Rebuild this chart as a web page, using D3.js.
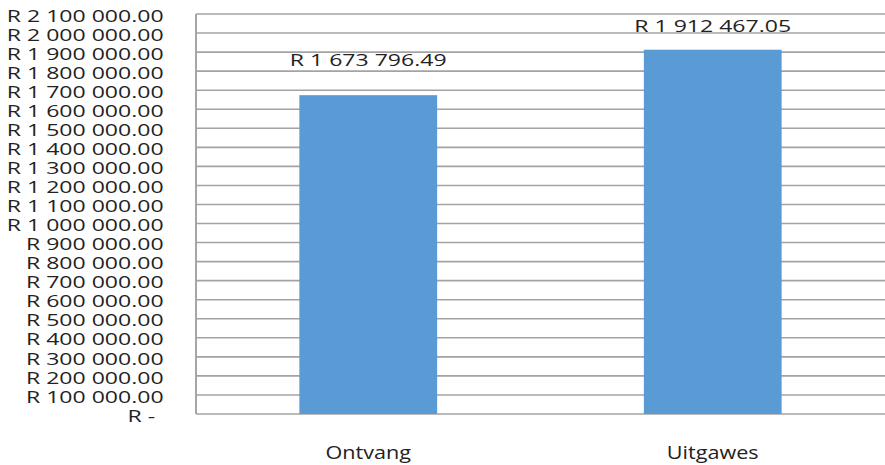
<!DOCTYPE html>
<html>
<head>
<meta charset="utf-8">
<script src="https://cdn.jsdelivr.net/npm/d3@7"></script>
<style>
  html, body { margin: 0; padding: 0; background: #fff; }
  svg { display: block; }
  text { font-family: "Open Sans", sans-serif; fill: #222; }
</style>
</head>
<body>
<div id="chart"></div>
<script>
// data
var categories = ["Ontvang", "Uitgawes"];
var amounts = [1673796.49, 1912467.05];
var labelLift = [29, 18]; // how far each data label sits above its bar
var yMax = 2100000;
var yStep = 100000;

// the original picture is stretched sideways, so draw narrow and stretch it
var stretch = 1.2;
var outW = 885, H = 465;
var W = outW / stretch;
var margin = {top: 14, right: 0, bottom: 51, left: 196 / stretch};

var svg = d3.select("#chart").append("svg")
  .attr("width", outW).attr("height", H)
  .attr("viewBox", "0 0 " + W + " " + H)
  .attr("preserveAspectRatio", "none");

var x = d3.scaleBand().domain(categories)
  .range([margin.left, W - margin.right]).padding(0);
var y = d3.scaleLinear().domain([0, yMax]).range([H - margin.bottom, margin.top]);

var ticks = d3.range(0, yMax + 1, yStep);

// format like R 1 200 000.00
var fmtNum = function(v){
  var parts = v.toFixed(2).split(".");
  return "R " + parts[0].replace(/\B(?=(\d{3})+(?!\d))/g, " ") + "." + parts[1];
};

// money texts are a bit wider in the original
var widen = function(sel, k){
  sel.each(function(){
    var len = this.getComputedTextLength();
    d3.select(this).attr("textLength", len * k).attr("lengthAdjust", "spacingAndGlyphs");
  });
};

// gridlines
svg.append("g").selectAll("line").data(ticks).enter().append("line")
  .attr("x1", margin.left).attr("x2", W)
  .attr("y1", function(d){ return y(d); })
  .attr("y2", function(d){ return y(d); })
  .attr("stroke", "#a3a3a3").attr("stroke-width", 1.6);

// left border
svg.append("line")
  .attr("x1", margin.left).attr("x2", margin.left)
  .attr("y1", y(yMax)).attr("y2", y(0))
  .attr("stroke", "#a3a3a3").attr("stroke-width", 1.6);

// y axis labels
var yAxis = d3.axisLeft(y).tickValues(ticks).tickSize(0).tickPadding(27)
  .tickFormat(function(d){ return d === 0 ? "R -" : fmtNum(d); });
var gy = svg.append("g").attr("transform", "translate(" + margin.left + ",0)").call(yAxis);
gy.select(".domain").remove();
gy.selectAll("text")
  .style("font-family", "'Open Sans', sans-serif")
  .style("font-size", "17px").attr("fill", "#222")
  .attr("dy", "0.42em")
  .attr("dx", function(d){ return d === 0 ? -7 : 0; });
widen(gy.selectAll("text"), 1.13);

// bars
var barW = x.bandwidth() * 0.4;
svg.append("g").selectAll("rect").data(amounts).enter().append("rect")
  .attr("x", function(d, i){ return x(categories[i]) + (x.bandwidth() - barW) / 2; })
  .attr("width", barW)
  .attr("y", function(d){ return y(d); })
  .attr("height", function(d){ return y(0) - y(d); })
  .attr("fill", "#5b9bd5");

// data labels
var dl = svg.append("g").selectAll("text").data(amounts).enter().append("text")
  .attr("x", function(d, i){ return x(categories[i]) + x.bandwidth() / 2; })
  .attr("y", function(d, i){ return y(d) - labelLift[i]; })
  .attr("text-anchor", "middle")
  .style("font-size", "17px")
  .text(function(d){ return fmtNum(d); });
widen(dl, 1.13);

// category labels
svg.append("g").selectAll("text").data(categories).enter().append("text")
  .attr("x", function(d){ return x(d) + x.bandwidth() / 2; })
  .attr("y", 459)
  .attr("text-anchor", "middle")
  .style("font-size", "18px")
  .text(function(d){ return d; });
</script>
</body>
</html>
